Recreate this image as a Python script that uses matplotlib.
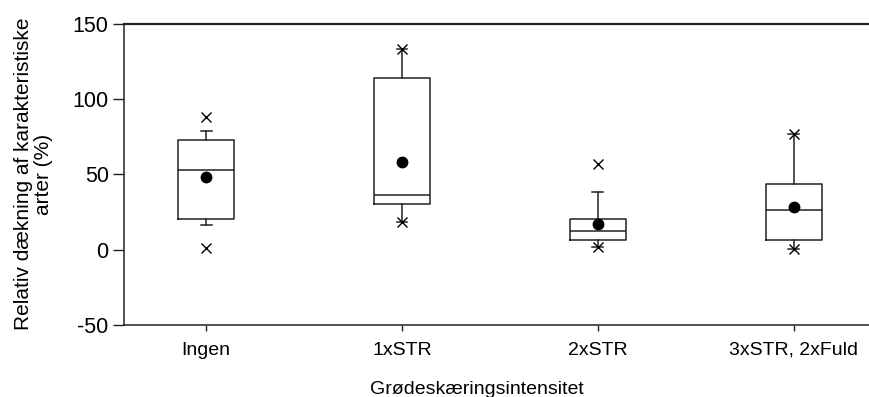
import matplotlib.pyplot as plt

plt.rcParams['font.family'] = ['Liberation Sans', 'DejaVu Sans']
plt.rcParams['axes.unicode_minus'] = False

# treatment groups along the x axis
groups = ["Ingen", "1xSTR", "2xSTR", "3xSTR, 2xFuld"]

# box statistics per group (%)
q1 = [20.5, 30.5, 6.5, 6.3]
med = [53.0, 36.5, 12.5, 26.6]
q3 = [73.0, 114.0, 20.0, 43.5]
whis_lo = [16.5, 18.5, 1.5, 0.2]
whis_hi = [78.7, 133.0, 38.5, 77.0]
means = [48.5, 58.3, 16.8, 28.0]
v_min = [0.8, 18.5, 1.5, 0.2]
v_max = [88.3, 133.0, 56.5, 77.0]

stats = []
for i, g in enumerate(groups):
    stats.append(dict(label=g, q1=q1[i], med=med[i], q3=q3[i],
                      whislo=whis_lo[i], whishi=whis_hi[i],
                      mean=means[i], fliers=[v_min[i], v_max[i]]))

fig = plt.figure(figsize=(8.7, 3.97), dpi=100)
ax = fig.add_axes([0.1425, 0.1814, 0.8575, 0.7594])

line = dict(color="#222222", linewidth=1.1)
ax.bxp(stats, positions=range(len(groups)), widths=0.285, capwidths=0.055,
       showmeans=True, patch_artist=False,
       boxprops=line, whiskerprops=line, capprops=line,
       medianprops=dict(color="#222222", linewidth=1.1),
       meanprops=dict(marker="o", markerfacecolor="black",
                      markeredgecolor="black", markersize=7.5),
       flierprops=dict(marker="x", markeredgecolor="black",
                       markersize=7.5, markeredgewidth=1.0))

ax.set_xlim(-0.42, 3.39)
ax.set_ylim(-50, 150)
ax.set_yticks([-50, 0, 50, 100, 150])
ax.set_xticks(range(len(groups)))
ax.set_xticklabels(groups)

ax.spines["right"].set_visible(False)
for s in ["left", "top", "bottom"]:
    ax.spines[s].set_color("#222222")
    ax.spines[s].set_linewidth(1.1)
ax.spines["top"].set_linewidth(1.6)

ax.tick_params(axis="y", direction="out", length=8, width=1.0,
               labelsize=15.5, pad=3, colors="#222222", labelcolor="black")
ax.tick_params(axis="x", direction="out", length=4, width=1.0,
               labelsize=14, pad=8, colors="#222222", labelcolor="black")

ax.set_ylabel("Relativ dækning af karakteristiske\narter (%)", fontsize=15,
              labelpad=14, linespacing=1.05)
ax.set_xlabel("Grødeskæringsintensitet", fontsize=14)
ax.xaxis.set_label_coords(0.473, -0.185)

fig.savefig("out.png", dpi=100)
